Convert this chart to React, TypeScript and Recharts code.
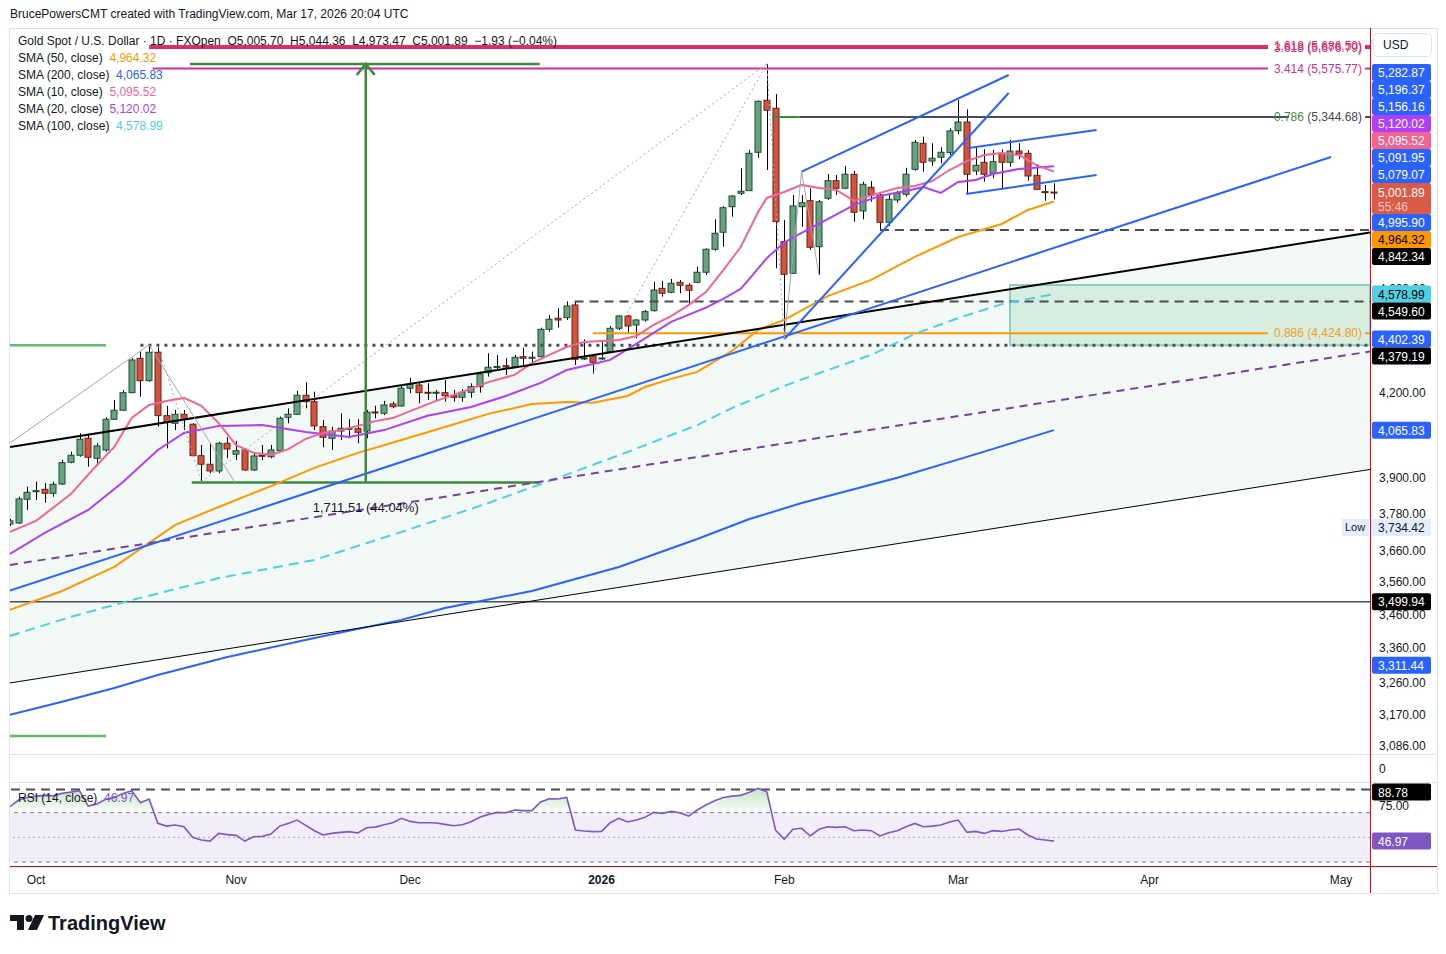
import React from 'react'
import {
  ComposedChart, Bar, Line, Area, XAxis, YAxis,
  ReferenceLine, ReferenceArea, ReferenceDot,
} from 'recharts'

// daily bars, index 0 = 1 Oct 2025 (trading days), first bar = 26 Sep 2025
const FIRST_BAR = -3

const OPEN = [
  3746, 3749.2, 3827.7, 3854.4, 3861, 3847.7, 3879.1, 3953.3, 3977.6, 4037.1,
  3967.2, 3996, 4104.6, 4137.1, 4201.1, 4329.2, 4245.3, 4352, 4117.7, 4090.3,
  4122.6, 4086.8, 3976.2, 3946.5, 3923.4, 4019.4, 3981.1, 3996, 3926.9, 3977.6,
  3972.7, 3993.6, 4111.8, 4122.6, 4191.6, 4168.3, 4078.2, 4037.1, 4062.8, 4070.5,
  4071, 4062.8, 4130.9, 4126.2, 4159.9, 4152.6, 4217.3, 4229.4, 4202.6, 4200,
  4201.1, 4190.1, 4184.2, 4202.6, 4223.1, 4275.1, 4295.3, 4301.2, 4297.6, 4335.3,
  4329.2, 4335.3, 4440.3, 4483.3, 4485.5, 4535.5, 4326.6, 4337.8, 4326.6, 4354.3,
  4444.1, 4492.2, 4457, 4476.5, 4513.1, 4601.9, 4586.1, 4626.3, 4614.3, 4626.3,
  4667, 4761.6, 4832.9, 4942, 5000.3, 5011.7, 5182.6, 5423.4, 5385.7, 4793.4,
  4662.8, 4942, 4968, 4772.5, 4978.6, 5055.6, 5022.2, 5084, 4923.6, 5026.6,
  4992.9, 4875.3, 4971.1, 4995.9, 5105.9, 5223.5, 5143.4, 5160.1, 5180.8, 5281.3,
  5321.6, 5098.7, 5137.5, 5088.5, 5178, 5137.5, 5188.4, 5178, 5079.5, 5007.4,
  5005.7,
]
const HIGH = [
  3762.5, 3836.3, 3870, 3887, 3882.5, 3887, 3961.2, 3990.1, 4054.7, 4048.7,
  4019.4, 4111.8, 4174.4, 4211, 4329.2, 4354.3, 4379.9, 4377.2, 4152.6, 4138.1,
  4138.1, 4090.3, 4013.3, 4019.4, 4025.1, 4040.5, 4027.6, 4001.7, 3984.5, 4013.3,
  4013.3, 4114, 4144.4, 4207.3, 4239.4, 4204.8, 4102, 4078.2, 4126.2, 4104.6,
  4104.6, 4138.1, 4153.6, 4170.8, 4168.3, 4229.4, 4256.3, 4237.9, 4235.7, 4211,
  4247.7, 4211, 4213.6, 4235.7, 4278.8, 4348.2, 4341.6, 4329.2, 4341.6, 4369.4,
  4354.3, 4446.5, 4496.2, 4522.5, 4549.6, 4548.6, 4401.7, 4345.5, 4399, 4453.1,
  4496.2, 4496.2, 4480.4, 4515.8, 4628.8, 4631.6, 4639.7, 4635.6, 4622.3, 4690,
  4765.8, 4888, 4944.5, 4992.9, 5110.2, 5192.9, 5422.5, 5598.5, 5453.4, 4885.2,
  4992.9, 4992.9, 5022.2, 4971.1, 5085.3, 5080.9, 5121, 5098.7, 5051.2, 5054.3,
  5000.3, 4992.9, 5010.4, 5112.8, 5238.6, 5253.8, 5223.5, 5205.3, 5292.3, 5424.9,
  5381, 5205.3, 5196.2, 5192.9, 5196.2, 5238.6, 5223.5, 5192.9, 5128.6, 5036.7,
  5044.36,
]
const LOW = [
  3739.5, 3746, 3792, 3825.3, 3816.3, 3836.3, 3875.7, 3949.9, 3972.7, 3938.2,
  3940.6, 3990.1, 4102, 4134.5, 4198.9, 4186.5, 4241.6, 4078.2, 4001.7, 4066.4,
  4066.4, 3972.7, 3887, 3915.6, 3915.6, 3967.2, 3961.2, 3923.4, 3923.4, 3961.2,
  3967.2, 3990.1, 4090.3, 4120.1, 4144.4, 4066.4, 4005.2, 3996, 4031, 4037.1,
  4019.4, 4037.1, 4108.2, 4120.1, 4144.4, 4150, 4198.9, 4162.4, 4174.4, 4174.4,
  4168.3, 4168.3, 4168.3, 4182.8, 4201.1, 4260.3, 4285.2, 4266.6, 4296.5, 4303.8,
  4303.8, 4332.3, 4431, 4446.5, 4476.5, 4303.8, 4322.8, 4270.3, 4322.8, 4348.2,
  4437.6, 4424.8, 4405.6, 4469.8, 4509.3, 4569, 4582.1, 4582.1, 4539.4, 4622.3,
  4656, 4755.8, 4772.5, 4899.3, 4992.9, 5010.4, 5158.2, 5103.1, 4683.1, 4402.4,
  4660, 4856.3, 4758.7, 4656, 4971.1, 4992.9, 5018.5, 4877.9, 4888, 4963.7,
  4842.3, 4859.3, 4959.4, 4985.4, 5100, 5095.6, 5121, 5133, 5170.4, 5266.1,
  4997.2, 5080.9, 5051.2, 5066.2, 5017.7, 5117.8, 5151.1, 5055.6, 5014.8, 4968,
  4973.47,
]
const CLOSE = [
  3756, 3828.7, 3851, 3856.5, 3847.7, 3878, 3952, 3977.6, 4033.6, 3970.6,
  4010, 4104.6, 4137.1, 4201.1, 4322.8, 4245.3, 4352, 4117.7, 4093.9, 4122.6,
  4104.6, 3976.2, 3946.5, 3923.4, 4019.4, 3999.5, 3993.6, 3926.9, 3975.2, 3975.2,
  3996, 4108.2, 4122.6, 4191.6, 4168.3, 4080.7, 4040.5, 4062.8, 4072.4, 4072.4,
  4058.2, 4129.8, 4128.4, 4156.2, 4150, 4217.3, 4232, 4201.1, 4201.1, 4202.6,
  4190.1, 4184.2, 4202.6, 4223.1, 4270.3, 4295.3, 4298.4, 4296.5, 4333, 4329.2,
  4333, 4440.3, 4479.3, 4476.5, 4531.5, 4325.4, 4330.4, 4314.1, 4330.4, 4444.1,
  4492.2, 4453.1, 4476.5, 4509.3, 4595.3, 4582.1, 4622.3, 4614.3, 4594.1, 4667,
  4761.6, 4828.6, 4937.7, 4988.5, 5009.1, 5178, 5418.7, 5376.3, 4877.9, 4658.8,
  4945.2, 4959.4, 4770, 4963.7, 5055.6, 5022.2, 5084, 4918, 5039.8, 4992.9,
  4875.3, 4974.1, 5000.3, 5084, 5228.1, 5137.5, 5155.6, 5182.6, 5280, 5321.6,
  5084, 5124.2, 5084, 5140.2, 5137.5, 5188.4, 5174.9, 5076.5, 5017.7, 5003.8,
  5001.89,
]
const RSI14 = [
  74.8, 80.2, 82.3, 83.4, 84, 83.7, 85.6, 86.6, 87.8, 75.3,
  77, 80.8, 82.3, 85.6, 87.8, 78, 81, 61.3, 59.1, 60,
  58.6, 50, 47.8, 47, 53.2, 52.2, 51.6, 47, 50.5, 50.8,
  52.7, 59.1, 61.3, 64, 59.7, 55.4, 51.9, 53.2, 54, 54.6,
  53.5, 57.8, 58.3, 60.2, 61.8, 65.4, 62.9, 61.8, 61.8, 61.6,
  60.5, 59.4, 60.2, 62.7, 66.2, 68.6, 70.2, 69.9, 72.1, 71.6,
  71.6, 78.6, 81.3, 81, 82.3, 55.9, 55.1, 54.6, 54.8, 61.8,
  65.4, 62.4, 64, 66.2, 70.2, 69.4, 71, 69.9, 67.2, 72.1,
  76.2, 79.7, 82.3, 83.4, 84, 86.6, 89.6, 86.9, 55.9, 48.4,
  56.5, 57.3, 51.1, 56.5, 58.6, 58.1, 58.6, 55.4, 55.9, 55.4,
  51.1, 53.7, 55.4, 58.6, 61.3, 58.6, 59.1, 60, 62.4, 64,
  54, 54.8, 53.2, 55.4, 54.8, 55.9, 56.7, 51.9, 48.7, 47.8,
  46.97,
]

// moving averages: [bar index, value]
const SMA10_PTS = [
  [-3, 3720], [0, 3756], [4, 3845], [7, 3944], [9, 4007], [11, 4109], [13, 4156], [15, 4171],
  [17, 4182], [19, 4153], [21, 4091], [23, 4013], [25, 3986], [27, 3979], [29, 3999], [31, 4035],
  [33, 4056], [35, 4066], [37, 4081], [39, 4098], [41, 4109], [43, 4134], [46, 4171], [49, 4204],
  [52, 4240], [55, 4267], [57, 4311], [59, 4342], [61, 4372], [63, 4391], [65, 4395], [67, 4399],
  [69, 4414], [71, 4457], [73, 4492], [75, 4535], [77, 4587], [79, 4676], [81, 4771], [83, 4919],
  [84, 4980], [86, 5006], [88, 5037], [90, 5023], [92, 5015], [94, 4967], [95, 4980], [97, 5002],
  [99, 5023], [101, 5032], [103, 5054], [105, 5103], [107, 5143], [109, 5170], [111, 5179],
  [113, 5170], [115, 5125], [117, 5095.52],
]
const SMA20_PTS = [
  [-3, 3649], [1, 3717], [6, 3792], [10, 3886], [14, 3996], [17, 4056], [21, 4081], [26, 4084],
  [31, 4059], [36, 4042], [40, 4066], [45, 4117], [50, 4149], [54, 4189], [58, 4237], [61, 4285],
  [63, 4300], [66, 4323], [69, 4384], [73, 4469], [77, 4525], [79, 4560], [81, 4600], [82, 4640],
  [84, 4725], [86, 4790], [88, 4830], [91, 4889], [94, 4949], [97, 4989], [100, 5010], [102, 5028],
  [104, 5002], [106, 5050], [108, 5059], [110, 5085], [113, 5108], [117, 5120.02],
]
const SMA50_PTS = [
  [-3, 3475], [3, 3533], [9, 3608], [16, 3743], [21, 3802], [27, 3872], [32, 3934], [37, 3986],
  [42, 4031], [47, 4077], [52, 4124], [57, 4160], [61, 4167], [64, 4164], [68, 4189], [70, 4222],
  [73, 4252], [76, 4278], [80, 4357], [83, 4438], [86, 4477], [91, 4571], [96, 4636], [101, 4730],
  [106, 4813], [111, 4868], [114, 4928], [117, 4964.32],
]
const SMA100_PTS = [
  [-3, 3397], [4, 3454], [11, 3505], [21, 3573], [32, 3630], [42, 3720], [52, 3815], [60, 3900],
  [68, 3989], [76, 4084], [80, 4145], [86, 4226], [91, 4285], [96, 4342], [101, 4422], [106, 4484],
  [111, 4539], [117, 4578.99],
]
const SMA200_PTS = [
  [-3, 3171], [3, 3207], [9, 3246], [14, 3283], [22, 3335], [32, 3391], [42, 3445], [47, 3481],
  [57, 3533], [67, 3608], [76, 3697], [82, 3762], [88, 3815], [99, 3900], [107, 3972], [117, 4065.83],
]

const MONTH_TICKS = [0, 23, 43, 65, 86, 106, 128, 150]
const MONTH_LABELS = ['Oct', 'Nov', 'Dec', '2026', 'Feb', 'Mar', 'Apr', 'May']
const PRICE_TICKS = [3086, 3170, 3260, 3360, 3460, 3560, 3660, 3780, 3900, 4200, 4600]

// drawings (anchor points in bar index / price)
const CHANNEL = [
  { i: -2.99, band: [3260.3, 4006.7] },
  { i: 153.33, band: [3928.6, 4832] },
]
const TRENDLINES = [
  { a: [-2.99, 4006.7], b: [153.33, 4832], color: '#000', w: 2 },
  { a: [-2.99, 3260.3], b: [153.33, 3928.6], color: '#000', w: 1 },
  { a: [-2.99, 3614.2], b: [153.33, 4355], color: '#7b3f9e', w: 2, dash: '8 6' },
  { a: [-2.99, 3534.6], b: [148.85, 5161.4], color: '#2962ff', w: 2 },
  { a: [86, 4402.4], b: [111.8, 5458.1], color: '#2962ff', w: 2 },
  { a: [88, 5095.6], b: [111.8, 5544.6], color: '#2962ff', w: 2 },
  { a: [107, 5200.8], b: [121.9, 5284.9], color: '#2962ff', w: 2 },
  { a: [106.9, 4997.2], b: [121.9, 5080.9], color: '#2962ff', w: 2 },
  { a: [-2.99, 4020.5], b: [13, 4379.9], color: '#a3a6ae', w: 1 },
  { a: [13, 4379.9], b: [22.9, 3882.5], color: '#a3a6ae', w: 1 },
  { a: [14, 4377.2], b: [19, 3887], color: '#a3a6ae', w: 1, dash: '2 3' },
  { a: [19, 3887], b: [84, 5598.5], color: '#a3a6ae', w: 1, dash: '2 3' },
  { a: [64, 4270.3], b: [84, 5598.5], color: '#a3a6ae', w: 1, dash: '2 3' },
  { a: [84, 5598.5], b: [86, 4402.4], color: '#a3a6ae', w: 1, dash: '2 3' },
  { a: [86, 4402.4], b: [88, 5095.6], color: '#a3a6ae', w: 1 },
  { a: [88, 5095.6], b: [90, 4656], color: '#a3a6ae', w: 1 },
]
const LEVELS = [
  { p: 5686.5, from: 13, to: 141.6, color: '#e0314f', w: 2 },
  { p: 5676.79, from: 13, to: 141.6, color: '#d6287c', w: 2 },
  { p: 5575.77, from: 13.4, to: 141.6, color: '#cf2f94', w: 2 },
  { p: 5344.68, from: 87.8, to: 144, color: '#4a4d57', w: 2 },
  { p: 5344.68, from: 84.6, to: 87.8, color: '#3f8a3a', w: 2 },
  { p: 4842.34, from: 97, to: 153.33, color: '#4a4d57', w: 2, dash: '9 6' },
  { p: 4549.6, from: 61.9, to: 153.33, color: '#4a4d57', w: 2, dash: '9 6' },
  { p: 4424.8, from: 64, to: 141.6, color: '#ff9800', w: 2 },
  { p: 4379.19, from: 12, to: 153.33, color: '#4a4d57', w: 3, dash: '3 5' },
  { p: 3499.94, from: -2.99, to: 153.33, color: '#4a4d57', w: 1.5 },
  { p: 4379.19, from: -2.99, to: 8.05, color: '#66bb6a', w: 2.5 },
  { p: 3112.9, from: -2.99, to: 8.05, color: '#66bb6a', w: 2.5 },
  { p: 5598.5, from: 17.7, to: 57.9, color: '#3b8a3e', w: 2.5 },
  { p: 3884, from: 17.9, to: 57.9, color: '#3b8a3e', w: 2.5 },
]
const FIB_LABELS = [
  { p: 5686.5, text: '1.618 (5,686.50)', color: '#e0314f' },
  { p: 5676.79, text: '3.618 (5,676.79)', color: '#d6287c' },
  { p: 5575.77, text: '3.414 (5,575.77)', color: '#cf2f94' },
  { p: 4424.8, text: '0.886 (4,424.80)', color: '#f29d1c' },
]

const PRICE_TAGS = [
  { v: 5282.87, bg: '#2962ff', fg: '#fff' },
  { v: 5196.37, bg: '#2962ff', fg: '#fff' },
  { v: 5156.16, bg: '#2962ff', fg: '#fff' },
  { v: 5120.02, bg: '#b03ef6', fg: '#fff' },
  { v: 5095.52, bg: '#ef6592', fg: '#fff' },
  { v: 5091.95, bg: '#2962ff', fg: '#fff' },
  { v: 5079.07, bg: '#2962ff', fg: '#fff' },
  { v: 5001.89, bg: '#d85a47', fg: '#fff', sub: '55:46' },
  { v: 4995.9, bg: '#2962ff', fg: '#fff' },
  { v: 4964.32, bg: '#ff9800', fg: '#000' },
  { v: 4842.34, bg: '#000', fg: '#fff' },
  { v: 4578.99, bg: '#4dd0e1', fg: '#000' },
  { v: 4549.6, bg: '#000', fg: '#fff' },
  { v: 4402.39, bg: '#2962ff', fg: '#fff' },
  { v: 4379.19, bg: '#000', fg: '#fff' },
  { v: 4065.83, bg: '#2962ff', fg: '#fff' },
  { v: 3734.42, bg: '#e3eefc', fg: '#131722', low: true },
  { v: 3499.94, bg: '#000', fg: '#fff' },
  { v: 3311.44, bg: '#2962ff', fg: '#fff' },
]

const SMA_SERIES = [
  { key: 'sma200', pts: SMA200_PTS, color: '#2962ff' },
  { key: 'sma100', pts: SMA100_PTS, color: '#4dd0e1', dash: '10 6' },
  { key: 'sma50', pts: SMA50_PTS, color: '#ff9800' },
  { key: 'sma20', pts: SMA20_PTS, color: '#b03ef6' },
  { key: 'sma10', pts: SMA10_PTS, color: '#f06595' },
]

const FONT = '"Liberation Sans", Arial, Helvetica, sans-serif'
const LEFT = 10
const CHART_W = 1427
const AXIS_W = 67
const PLOT_W = CHART_W - AXIS_W
const MAIN_TOP = 29
const MAIN_H = 724
const RSI_TOP = 783
const RSI_PLOT_H = 83
const TIME_H = 27
const X_DOMAIN = [-2.99, 153.33]
const P_MIN = 3066.8
const P_MAX = 5771.8
const R_MIN = 26.8
const R_MAX = 94
const BODY_W = 7

const rows: any[] = OPEN.map((o, k) => ({
  i: FIRST_BAR + k, o, h: HIGH[k], l: LOW[k], c: CLOSE[k], hl: [LOW[k], HIGH[k]],
}))
SMA_SERIES.forEach(s => s.pts.forEach(([i, v]) => { rows[i - FIRST_BAR][s.key] = v }))
const rsiRows = RSI14.map((v, k) => ({ i: FIRST_BAR + k, rsi: v, hot: [70, Math.max(70, v)] }))

const fmt = (v: number) => v.toLocaleString('en-US', { minimumFractionDigits: 2, maximumFractionDigits: 2 })

function Candle(props: any) {
  const { x, y, width, height, payload } = props
  if (x == null || !payload) return null
  const { o, h, l, c } = payload
  const span = Math.log(h) - Math.log(l)
  const at = (p: number) => y + (span > 0 ? (height * (Math.log(h) - Math.log(p))) / span : 0)
  const cx = Math.round(x + width / 2) + 0.5
  const up = c >= o
  const top = at(Math.max(o, c))
  const bot = at(Math.min(o, c))
  return (
    <g>
      <line x1={cx} x2={cx} y1={y} y2={y + height} stroke="#000" strokeWidth={1} />
      <rect x={cx - BODY_W / 2} y={top} width={BODY_W - 1} height={Math.max(bot - top, 1)}
        fill={up ? '#68a27f' : '#d5523f'} stroke={up ? '#1f4d32' : '#6b2118'} strokeWidth={1} />
    </g>
  )
}

const PriceTick = (p: any) => (
  <text x={PLOT_W + 9} y={p.y + 4} fontSize={12} fill="#131722" fontFamily={FONT}>{fmt(p.payload.value)}</text>
)

const TimeTick = (p: any) => {
  const label = MONTH_LABELS[MONTH_TICKS.indexOf(p.payload.value)]
  return (
    <text x={p.x} y={p.y + 10} textAnchor="middle" fontSize={12} fontFamily={FONT}
      fontWeight={label === '2026' ? 700 : 400} fill="#131722">{label}</text>
  )
}

const yPrice = (p: number) =>
  MAIN_TOP + ((Math.log(P_MAX) - Math.log(p)) / (Math.log(P_MAX) - Math.log(P_MIN))) * MAIN_H
const yRsi = (v: number) => RSI_TOP + ((R_MAX - v) / (R_MAX - R_MIN)) * RSI_PLOT_H

// push the axis tags apart the way the platform stacks them
function stackTags() {
  const ys = PRICE_TAGS.map(t => yPrice(t.v))
  const out = ys.slice()
  const a = PRICE_TAGS.findIndex(t => t.sub)
  let edge = out[a] - 10
  for (let k = a - 1; k >= 0; k--) { out[k] = Math.min(ys[k], edge - 8.5); edge = out[k] - 8.5 }
  edge = out[a] + 21
  for (let k = a + 1; k < ys.length; k++) { out[k] = Math.max(ys[k], edge + 8.5); edge = out[k] + 8.5 }
  return out
}

function Tag({ y, t }: any) {
  const top = t.sub ? y - 10 : y - 8.5
  return (
    <g fontFamily={FONT} fontSize={12}>
      {t.low && (
        <g>
          <rect x={1342} y={y - 8.5} width={27} height={17} fill="#e3eefc" />
          <text x={1345} y={y + 4} fill="#131722" fontSize={11}>Low</text>
        </g>
      )}
      <rect x={1372} y={top} width={59} height={t.sub ? 31 : 17} rx={2} fill={t.bg} />
      <text x={1378} y={y + 4.5} fill={t.fg}>{fmt(t.v)}</text>
      {t.sub && <text x={1378} y={y + 18.5} fill="#f6c9c1">{t.sub}</text>}
    </g>
  )
}

const legendRows = [
  { name: 'SMA (50, close)', v: '4,964.32', color: '#ff9800' },
  { name: 'SMA (200, close)', v: '4,065.83', color: '#2962ff' },
  { name: 'SMA (10, close)', v: '5,095.52', color: '#f06595' },
  { name: 'SMA (20, close)', v: '5,120.02', color: '#b03ef6' },
  { name: 'SMA (100, close)', v: '4,578.99', color: '#4dd0e1' },
]

export default function App() {
  const tagYs = stackTags()
  return (
    <div style={{ position: 'fixed', left: 0, top: 0, width: 1446, height: 954, background: '#fff', fontFamily: FONT, overflow: 'hidden' }}>
      <div style={{ position: 'absolute', left: 10, top: 7, fontSize: 12, color: '#131722' }}>
        BrucePowersCMT created with TradingView.com, Mar 17, 2026 20:04 UTC
      </div>

      <div style={{ position: 'absolute', left: LEFT, top: MAIN_TOP }}>
        <ComposedChart width={CHART_W} height={MAIN_H} data={rows} margin={{ top: 0, right: 0, bottom: 0, left: 0 }}>
          <XAxis dataKey="i" type="number" domain={X_DOMAIN} allowDataOverflow hide />
          <YAxis orientation="right" width={AXIS_W} type="number" scale="log" domain={[P_MIN, P_MAX]}
            allowDataOverflow ticks={PRICE_TICKS} interval={0} tick={(p: any) => <PriceTick {...p} />}
            axisLine={false} tickLine={false} />
          <Area data={CHANNEL} dataKey="band" type="linear" stroke="none" fill="#eef6f2" fillOpacity={0.75}
            isAnimationActive={false} dot={false} activeDot={false} />
          <ReferenceArea x1={111.95} x2={153.33} y1={4379.19} y2={4615} fill="#cfeada" fillOpacity={0.8}
            stroke="#8fcfbf" strokeWidth={2} ifOverflow="hidden" />
          {LEVELS.map((l, k) => (
            <ReferenceLine key={'lv' + k} segment={[{ x: l.from, y: l.p }, { x: l.to, y: l.p }]}
              stroke={l.color} strokeWidth={l.w} strokeDasharray={l.dash} ifOverflow="hidden" />
          ))}
          {SMA_SERIES.map(s => (
            <Line key={s.key} dataKey={s.key} type="linear" connectNulls stroke={s.color} strokeWidth={2}
              strokeDasharray={s.dash} dot={false} activeDot={false} isAnimationActive={false} />
          ))}
          <Bar dataKey="hl" barSize={7} shape={(p: any) => <Candle {...p} />} isAnimationActive={false} />
          {TRENDLINES.map((t, k) => (
            <ReferenceLine key={'tl' + k} segment={[{ x: t.a[0], y: t.a[1] }, { x: t.b[0], y: t.b[1] }]}
              stroke={t.color} strokeWidth={t.w} strokeDasharray={t.dash} ifOverflow="hidden" />
          ))}
          <ReferenceLine segment={[{ x: 37.9, y: 3884 }, { x: 37.9, y: 5598.5 }]} stroke="#3b8a3e" strokeWidth={2.5} ifOverflow="hidden" />
          <ReferenceDot x={37.9} y={5598.5} r={0} ifOverflow="visible"
            shape={(p: any) => (
              <polyline points={`${p.cx - 9},${p.cy + 11} ${p.cx},${p.cy} ${p.cx + 9},${p.cy + 11}`}
                fill="none" stroke="#3b8a3e" strokeWidth={2.5} />
            )} />
          <ReferenceDot x={37.9} y={3884} r={0} ifOverflow="visible"
            shape={(p: any) => (
              <text x={p.cx} y={p.cy + 29} textAnchor="middle" fontSize={13} fill="#131722" fontFamily={FONT}>
                1,711.51 (44.04%)
              </text>
            )} />
          {FIB_LABELS.map((f, k) => (
            <ReferenceDot key={'fl' + k} x={X_DOMAIN[1]} y={f.p} r={0} ifOverflow="visible"
              shape={(p: any) => (
                <g>
                  <text x={p.cx - 8} y={p.cy + 4} textAnchor="end" fontSize={12} fill={f.color} fontFamily={FONT}>{f.text}</text>
                  <line x1={p.cx - 5} x2={p.cx} y1={p.cy} y2={p.cy} stroke={f.color} strokeWidth={2} />
                </g>
              )} />
          ))}
          <ReferenceDot x={X_DOMAIN[1]} y={5344.68} r={0} ifOverflow="visible"
            shape={(p: any) => (
              <g>
                <text x={p.cx - 8} y={p.cy + 4} textAnchor="end" fontSize={12} fontFamily={FONT}>
                  <tspan fill="#3f8a3a">0.786</tspan><tspan fill="#434651"> (5,344.68)</tspan>
                </text>
                <line x1={p.cx - 5} x2={p.cx} y1={p.cy} y2={p.cy} stroke="#4a4d57" strokeWidth={2} />
              </g>
            )} />
        </ComposedChart>
      </div>

      <div style={{ position: 'absolute', left: LEFT, top: RSI_TOP }}>
        <ComposedChart width={CHART_W} height={RSI_PLOT_H + TIME_H} data={rsiRows} margin={{ top: 0, right: 0, bottom: 0, left: 0 }}>
          <defs>
            <linearGradient id="rsiHot" x1="0" y1="0" x2="0" y2="1">
              <stop offset="0%" stopColor="#4caf50" stopOpacity={0.55} />
              <stop offset="100%" stopColor="#4caf50" stopOpacity={0.05} />
            </linearGradient>
          </defs>
          <XAxis dataKey="i" type="number" domain={X_DOMAIN} allowDataOverflow height={TIME_H}
            ticks={MONTH_TICKS} tick={(p: any) => <TimeTick {...p} />} axisLine={false} tickLine={false} interval={0} />
          <YAxis orientation="right" width={AXIS_W} type="number" domain={[R_MIN, R_MAX]} allowDataOverflow
            ticks={[75]} interval={0} tick={(p: any) => <PriceTick {...p} />} axisLine={false} tickLine={false} />
          <ReferenceArea y1={30} y2={70} fill="#7e57c2" fillOpacity={0.1} stroke="none" ifOverflow="hidden" />
          <ReferenceLine y={70} stroke="#787b86" strokeDasharray="4 4" />
          <ReferenceLine y={50} stroke="#787b86" strokeOpacity={0.6} strokeDasharray="2 3" />
          <ReferenceLine y={30} stroke="#787b86" strokeDasharray="4 4" />
          <ReferenceLine y={88.78} stroke="#4a4d57" strokeWidth={2} strokeDasharray="9 6" />
          <Area dataKey="hot" type="linear" stroke="none" fill="url(#rsiHot)" isAnimationActive={false} dot={false} activeDot={false} />
          <Line dataKey="rsi" type="linear" stroke="#7e57c2" strokeWidth={1.6} dot={false} activeDot={false} isAnimationActive={false} />
        </ComposedChart>
      </div>

      <div style={{ position: 'absolute', left: 18, top: 33, fontSize: 12, lineHeight: '17px', color: '#131722', whiteSpace: 'nowrap' }}>
        <div>Gold Spot / U.S. Dollar · 1D · FXOpen&nbsp;&nbsp;O5,005.70&nbsp;&nbsp;H5,044.36&nbsp;&nbsp;L4,973.47&nbsp;&nbsp;C5,001.89&nbsp;&nbsp;−1.93 (−0.04%)</div>
        {legendRows.map(r => (
          <div key={r.name}>{r.name}&nbsp;&nbsp;<span style={{ color: r.color }}>{r.v}</span></div>
        ))}
      </div>
      <div style={{ position: 'absolute', left: 18, top: 790, fontSize: 12, lineHeight: '17px', color: '#131722' }}>
        RSI (14, close)&nbsp;&nbsp;<span style={{ color: '#7e57c2' }}>46.97</span>
      </div>

      <svg width={1446} height={954} style={{ position: 'absolute', left: 0, top: 0, pointerEvents: 'none' }}>
        <rect x={9.5} y={28.5} width={1428} height={865} fill="none" stroke="#e0e3eb" />
        <line x1={10} x2={1437} y1={754.5} y2={754.5} stroke="#e0e3eb" />
        <line x1={10} x2={1437} y1={782.5} y2={782.5} stroke="#e0e3eb" />
        <text x={1379} y={773} fontSize={12} fill="#131722" fontFamily={FONT}>0</text>
        <line x1={1370.5} x2={1370.5} y1={28} y2={893} stroke="#e0000e" strokeWidth={1} />
        <line x1={10} x2={1437} y1={866.5} y2={866.5} stroke="#e0000e" strokeWidth={1} />
        <rect x={1373.5} y={33.5} width={58} height={23} rx={4} fill="#fff" stroke="#e0e3eb" />
        <text x={1383} y={49} fontSize={12} fill="#131722" fontFamily={FONT}>USD</text>
        {PRICE_TAGS.map((t, k) => <Tag key={t.v} y={tagYs[k]} t={t} />)}
        <Tag y={Math.max(yRsi(88.78), RSI_TOP + 9)} t={{ v: 88.78, bg: '#000', fg: '#fff' }} />
        <Tag y={yRsi(46.97)} t={{ v: 46.97, bg: '#7e57c2', fg: '#fff' }} />
        <g transform="translate(10,915)" fill="#131722">
          <path d="M0 0 H14 V15 H7 V6 H0 Z" />
          <circle cx={19} cy={3.5} r={3.5} />
          <path d="M25 0 H34 L27 15 H18 Z" />
          <text x={38} y={15} fontSize={20} fontWeight={700} fontFamily={FONT}>TradingView</text>
        </g>
      </svg>
    </div>
  )
}
